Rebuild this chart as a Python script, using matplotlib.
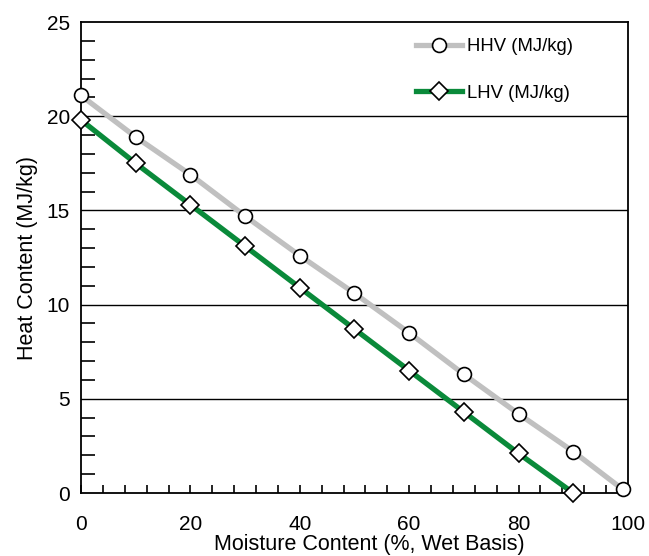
import matplotlib
matplotlib.use("Agg")
import matplotlib.pyplot as plt
from matplotlib.ticker import MultipleLocator

plt.rcParams['font.family'] = ['Liberation Sans', 'DejaVu Sans']

hhv_x = [0, 10, 20, 30, 40, 50, 60, 70, 80, 90, 99]
hhv_y = [21.1, 18.9, 16.9, 14.7, 12.6, 10.6, 8.5, 6.3, 4.2, 2.2, 0.2]
lhv_x = [0, 10, 20, 30, 40, 50, 60, 70, 80, 90]
lhv_y = [19.8, 17.5, 15.3, 13.1, 10.9, 8.7, 6.5, 4.3, 2.1, 0.0]
x_ticks = [0, 20, 40, 60, 80, 100]
y_ticks = [0, 5, 10, 15, 20, 25]

fig = plt.figure(figsize=(6.49, 5.56), dpi=100)
ax = fig.add_axes([0.1248, 0.1133, 0.8428, 0.8471])

for y in y_ticks[1:-1]:
    ax.axhline(y, color='black', lw=1.0, zorder=1)

ax.plot(hhv_x, hhv_y, color='#c0c0c0', lw=3.8, marker='o', ms=10,
        mfc='white', mec='black', mew=1.2, label='HHV (MJ/kg)', zorder=3, clip_on=False)
ax.plot(lhv_x, lhv_y, color='#0a8a3a', lw=3.8, marker='D', ms=9,
        mfc='white', mec='black', mew=1.2, label='LHV (MJ/kg)', zorder=4, clip_on=False)

ax.set_xlim(0, 100)
ax.set_ylim(0, 25)
ax.set_xticks(x_ticks)
ax.set_yticks(y_ticks)
ax.xaxis.set_minor_locator(MultipleLocator(4))
ax.yaxis.set_minor_locator(MultipleLocator(1))
ax.tick_params(axis='x', which='both', direction='in', length=6, width=1.2, pad=16, labelsize=15)
ax.tick_params(axis='y', which='both', direction='in', length=10, width=1.2, pad=8, labelsize=15)
ax.tick_params(axis='y', which='major', length=0)
for s in ax.spines.values():
    s.set_linewidth(1.3)

ax.set_xlabel('Moisture Content (%, Wet Basis)', fontsize=15.5, labelpad=0, x=0.528)
ax.set_ylabel('Heat Content (MJ/kg)', fontsize=15.5, labelpad=6)

ax.legend(loc='upper right', bbox_to_anchor=(0.9, 0.966), frameon=False, fontsize=13.3,
          handlelength=2.5, handletextpad=0.27, labelspacing=1.6, borderpad=0.0,
          borderaxespad=0.0)

fig.savefig('out.png', dpi=100)
